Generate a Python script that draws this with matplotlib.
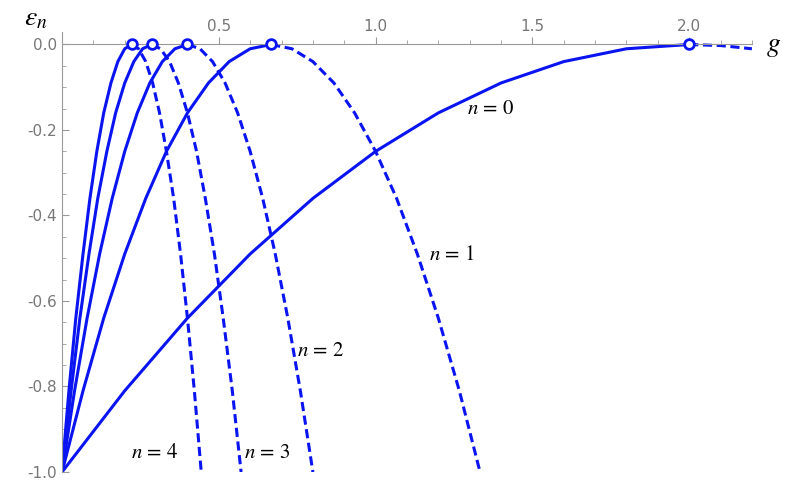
import matplotlib
matplotlib.use("Agg")
import matplotlib.pyplot as plt
from matplotlib.ticker import MultipleLocator

# values, shared shape for each branch
solid_vals = [-1.0, -0.81, -0.64, -0.49, -0.36, -0.25, -0.16, -0.09, -0.04, -0.01, 0.0]
dashed_vals = [0.0, -0.01, -0.04, -0.09, -0.16, -0.25, -0.36, -0.49, -0.64, -0.81, -1.0]

g0_solid = [0.0, 0.2, 0.4, 0.6, 0.8, 1.0, 1.2, 1.4, 1.6, 1.8, 2.0]
g0_dashed = [2.0, 2.1, 2.2]
g0_dashed_vals = [0.0, -0.0025, -0.01]

g1_solid = [0.0, 0.067, 0.133, 0.2, 0.267, 0.333, 0.4, 0.467, 0.533, 0.6, 0.667]
g1_dashed = [0.667, 0.733, 0.8, 0.867, 0.933, 1.0, 1.067, 1.133, 1.2, 1.267, 1.333]
g2_solid = [0.0, 0.04, 0.08, 0.12, 0.16, 0.2, 0.24, 0.28, 0.32, 0.36, 0.4]
g2_dashed = [0.4, 0.44, 0.48, 0.52, 0.56, 0.6, 0.64, 0.68, 0.72, 0.76, 0.8]
g3_solid = [0.0, 0.029, 0.057, 0.086, 0.114, 0.143, 0.171, 0.2, 0.229, 0.257, 0.286]
g3_dashed = [0.286, 0.314, 0.343, 0.371, 0.4, 0.429, 0.457, 0.486, 0.514, 0.543, 0.571]
g4_solid = [0.0, 0.022, 0.044, 0.067, 0.089, 0.111, 0.133, 0.156, 0.178, 0.2, 0.222]
g4_dashed = [0.222, 0.244, 0.267, 0.289, 0.311, 0.333, 0.356, 0.378, 0.4, 0.422, 0.444]

peaks_g = [2.0, 0.667, 0.4, 0.286, 0.222]

labels = [r"$n\,=\,0$", r"$n\,=\,1$", r"$n\,=\,2$", r"$n\,=\,3$", r"$n\,=\,4$"]
label_g = [1.29, 1.17, 0.75, 0.58, 0.22]
label_e = [-0.148, -0.49, -0.714, -0.953, -0.953]

blue = "#0a14f0"
plt.rcParams["mathtext.fontset"] = "stix"

fig = plt.figure(figsize=(7.89, 4.97), dpi=100)
ax = fig.add_axes([0.0786, 0.0503, 0.8744, 0.886])

ax.plot(g0_solid, solid_vals, color=blue, lw=2.2)
ax.plot(g0_dashed, g0_dashed_vals, color=blue, lw=2.2, ls=(0, (3, 1.5)))
for gs, gd in [(g1_solid, g1_dashed), (g2_solid, g2_dashed),
               (g3_solid, g3_dashed), (g4_solid, g4_dashed)]:
    ax.plot(gs, solid_vals, color=blue, lw=2.2)
    ax.plot(gd, dashed_vals, color=blue, lw=2.2, ls=(0, (3, 1.5)))

ax.plot(peaks_g, [0.0] * len(peaks_g), "o", ms=7, mfc="white", mec=blue, mew=2, zorder=5, clip_on=False)

for t, x, y in zip(labels, label_g, label_e):
    ax.text(x, y, t, fontsize=15, va="center", ha="left")

ax.set_xlim(0, 2.2)
ax.set_ylim(-1.0, 0.03)

ax.spines["right"].set_visible(False)
ax.spines["bottom"].set_position(("data", 0))
ax.spines["top"].set_visible(False)
for s in ["left", "bottom"]:
    ax.spines[s].set_color("#999999")

ax.xaxis.set_major_locator(MultipleLocator(0.5))
ax.xaxis.set_minor_locator(MultipleLocator(0.1))
ax.yaxis.set_major_locator(MultipleLocator(0.2))
ax.yaxis.set_minor_locator(MultipleLocator(0.05))
ax.set_xticks([0.5, 1.0, 1.5, 2.0])
ax.tick_params(axis="both", which="both", direction="in", colors="#999999", labelcolor="#777777", labelsize=11)
ax.tick_params(which="major", length=5)
ax.tick_params(which="minor", length=3)
ax.tick_params(axis="x", pad=-18)
ax.set_yticklabels([f"{v:.1f}" for v in ax.get_yticks()])

fig.text(0.045, 0.965, r"$\varepsilon_n$", fontsize=20, ha="center", va="center")
fig.text(0.98, 0.91, r"$g$", fontsize=20, ha="center", va="center")

fig.savefig("out.png", dpi=100)
